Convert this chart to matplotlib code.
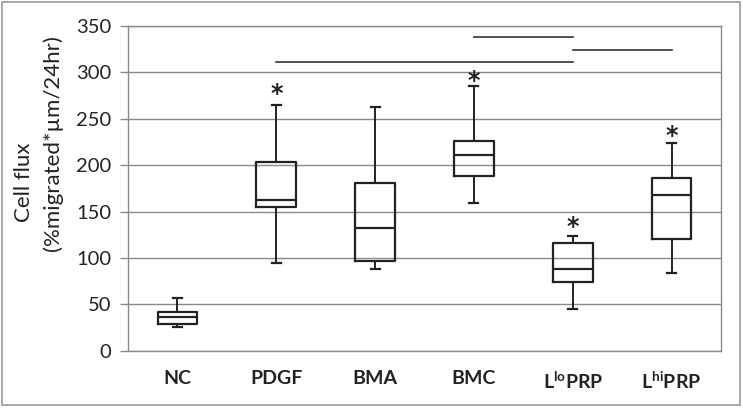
import matplotlib
matplotlib.use("Agg")
import matplotlib.pyplot as plt
from matplotlib.patches import Rectangle

plt.rcParams["font.family"] = ["Lato", "DejaVu Sans"]
plt.rcParams["mathtext.default"] = "regular"

# valeurs
groupes = ["NC", "PDGF", "BMA", "BMC", "L$^{lo}$PRP", "L$^{hi}$PRP"]
whisk_bas = [25.6, 94.6, 88.1, 159.0, 44.6, 84.1]
q1 = [29.1, 154.7, 97.1, 188.8, 74.1, 120.2]
mediane = [36.7, 162.6, 132.0, 211.4, 88.1, 167.6]
q3 = [41.4, 203.6, 180.9, 226.3, 115.8, 186.6]
whisk_haut = [56.9, 265.0, 262.6, 284.8, 123.7, 223.7]

# etoiles (significatif) : indice du groupe, hauteur
etoiles_idx = [1, 3, 4, 5]
etoiles_y = [277, 291, 133, 231]

# barres de comparaison : debut, fin, hauteur
barres_debut = [1, 3, 4]
barres_fin = [4, 4, 5]
barres_y = [311, 338, 323.6]

gris = "#8a8a8a"

fig = plt.figure(figsize=(7.43, 4.08), dpi=100)
ax = fig.add_axes([128 / 743, 1 - 350.7 / 408, (721 - 128) / 743, (350.7 - 26) / 408])

stats = []
for i, g in enumerate(groupes):
    stats.append({
        "label": g,
        "whislo": whisk_bas[i],
        "q1": q1[i],
        "med": mediane[i],
        "q3": q3[i],
        "whishi": whisk_haut[i],
        "fliers": [],
    })

noir = dict(color="#222222", linewidth=1.6)
ax.bxp(stats, positions=range(len(groupes)), widths=0.4, showfliers=False,
       boxprops=noir, medianprops=noir, whiskerprops=dict(color="#222222", linewidth=1.4),
       capprops=dict(color="#222222", linewidth=1.6), capwidths=0.09)

for i, y in zip(etoiles_idx, etoiles_y):
    ax.text(i, y, "*", ha="center", va="center", fontsize=17, fontweight="bold",
            color="#222222", family="DejaVu Sans")

for x0, x1, y in zip(barres_debut, barres_fin, barres_y):
    ax.plot([x0, x1], [y, y], color="#333333", linewidth=1.2)

ax.set_xlim(-0.5, len(groupes) - 0.5)
ax.set_ylim(0, 350)
ax.set_yticks(range(0, 351, 50))
ax.yaxis.grid(True, color=gris, linewidth=1)
ax.set_axisbelow(True)
for s in ax.spines.values():
    s.set_color(gris)
    s.set_linewidth(1)
ax.tick_params(axis="y", colors=gris, length=6, width=1, labelcolor="#222222",
               labelsize=14.5, pad=6)
ax.tick_params(axis="x", length=0, labelsize=14, labelcolor="#222222", pad=14)
for lab in ax.get_xticklabels():
    lab.set_fontweight("bold")

# titre de l'axe y sur deux lignes
fig.text(24 / 743, 1 - 182 / 408, "Cell flux", rotation=90, ha="center", va="center",
         fontsize=16, color="#222222")
fig.text(53 / 743, 1 - 143 / 408, "(%migrated*µm/24hr)", rotation=90, ha="center",
         va="center", fontsize=16, color="#222222")

fig.patches.append(Rectangle((0.003, 0.008), 0.993, 0.988, transform=fig.transFigure,
                             fill=False, edgecolor="#9a9a9a", linewidth=1.2))

fig.savefig("out.png", dpi=100)
